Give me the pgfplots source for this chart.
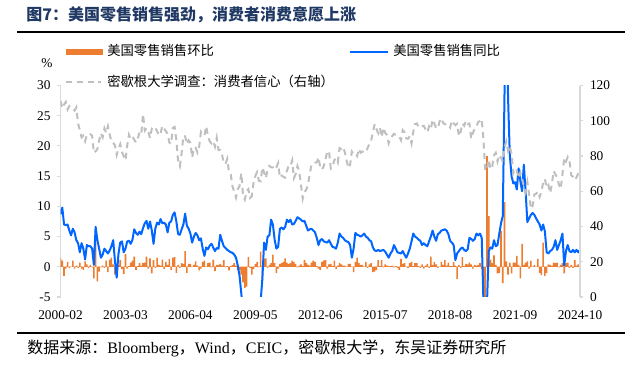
\documentclass[border=0pt]{standalone}
\usepackage{fontspec}
\setmainfont{Liberation Serif}
\newfontfamily\cjk{Noto Sans CJK SC}
\usepackage{pgfplots}
\usepackage{pgfplotstable}
\pgfplotsset{compat=1.18}
\definecolor{bOrange}{RGB}{237,125,49}
\definecolor{bBlue}{RGB}{0,102,255}
\definecolor{bGray}{RGB}{191,191,191}
\definecolor{axGray}{RGB}{217,217,217}
\definecolor{ttl}{RGB}{31,56,100}

% US retail sales MoM (%), 2000-02 ... 2024-10
\pgfplotstableread[row sep=\\]{v\\
1.4\\1.0\\-1.5\\-0.3\\0.8\\-0.2\\0.0\\1.0\\-0.3\\0.2\\-0.2\\
0.7\\-0.3\\-0.5\\0.9\\0.4\\-0.2\\0.3\\-0.1\\-1.9\\6.5\\-2.4\\-0.8\\
-0.1\\0.2\\-0.2\\1.0\\-0.9\\1.2\\1.5\\0.4\\-1.3\\0.4\\0.3\\1.1\\
-0.4\\-1.2\\2.1\\-0.3\\0.1\\0.7\\1.0\\1.7\\-0.5\\0.1\\0.6\\0.2\\
0.6\\0.7\\1.7\\-0.3\\1.4\\-1.1\\1.1\\-0.2\\1.5\\0.3\\0.2\\1.2\\
-0.4\\0.8\\0.3\\1.3\\-0.5\\1.5\\1.6\\-1.0\\0.3\\-0.2\\0.6\\0.5\\
2.6\\-1.0\\0.5\\0.5\\0.0\\0.3\\0.9\\0.2\\-0.6\\-0.3\\0.8\\1.0\\
0.0\\0.6\\0.7\\-0.1\\1.2\\-0.7\\0.3\\0.3\\0.5\\0.2\\1.1\\-0.1\\
0.1\\-0.6\\0.1\\0.3\\0.6\\0.2\\-0.6\\-0.5\\-1.3\\-2.6\\-3.5\\-3.3\\
1.6\\-0.2\\-1.3\\-0.4\\0.5\\0.8\\-0.1\\2.5\\-2.3\\1.3\\1.4\\-0.2\\
0.3\\0.6\\2.0\\0.6\\-1.0\\-0.3\\0.5\\0.6\\0.8\\1.4\\0.7\\0.5\\
0.6\\1.0\\0.8\\0.5\\-0.1\\0.2\\0.4\\0.1\\1.1\\0.6\\0.3\\0.2\\
0.7\\1.0\\0.8\\0.1\\-0.3\\-0.5\\0.8\\1.0\\1.1\\-0.3\\0.4\\0.5\\
0.1\\1.0\\-0.4\\0.2\\0.6\\0.4\\0.2\\0.2\\0.0\\0.5\\0.5\\0.0\\
-0.9\\0.8\\1.5\\0.6\\0.3\\0.3\\0.0\\0.8\\-0.2\\0.4\\0.6\\-0.9\\
-0.8\\-0.5\\1.1\\0.1\\1.1\\-0.1\\0.4\\0.2\\0.1\\0.1\\0.2\\-0.1\\
0.1\\-0.2\\-0.5\\1.3\\0.5\\0.6\\0.0\\-0.2\\0.6\\0.8\\0.1\\0.6\\
0.6\\0.1\\-0.2\\0.4\\-0.3\\0.2\\0.5\\-0.2\\1.7\\0.3\\0.8\\0.4\\
-0.2\\0.0\\0.8\\0.3\\1.1\\0.2\\0.7\\0.1\\0.1\\0.8\\0.2\\-2.0\\
0.3\\-0.2\\1.6\\0.1\\0.5\\0.4\\0.7\\0.4\\-0.3\\0.3\\0.2\\0.3\\
0.6\\-0.4\\-8.2\\-14.7\\18.3\\8.4\\1.2\\0.6\\1.9\\0.3\\-1.1\\-1.0\\
5.9\\-2.7\\10.7\\0.9\\-1.3\\0.7\\-1.1\\0.7\\0.7\\1.8\\0.3\\-1.9\\
3.8\\0.3\\0.7\\0.9\\-0.3\\1.0\\0.0\\0.3\\0.0\\1.3\\-1.0\\-1.4\\
4.0\\-1.5\\-1.0\\0.4\\0.3\\0.2\\0.7\\0.6\\0.7\\-0.1\\0.3\\0.6\\
-1.1\\0.6\\0.7\\-0.2\\0.3\\-0.2\\1.1\\0.2\\0.4\\0.4\\
}\momtab

% US retail sales YoY (%)
\pgfplotstableread[row sep=\\]{v\\
8.7\\9.8\\7.0\\6.9\\7.0\\6.0\\5.2\\6.3\\5.7\\4.4\\3.9\\
2.4\\3.9\\3.0\\1.2\\3.6\\3.4\\3.4\\3.0\\0.3\\6.6\\4.4\\3.0\\
1.5\\2.0\\3.0\\2.6\\2.2\\2.7\\3.4\\4.4\\1.0\\-1.8\\2.1\\4.0\\
4.2\\2.4\\3.0\\4.2\\4.3\\3.8\\4.5\\6.2\\5.6\\5.3\\5.8\\5.4\\
6.4\\7.2\\7.6\\6.3\\7.5\\6.0\\3.8\\6.3\\7.3\\7.0\\7.9\\7.2\\
7.3\\7.0\\5.7\\7.3\\7.5\\8.6\\9.0\\7.5\\5.4\\5.3\\6.2\\7.0\\
8.8\\6.8\\6.3\\5.5\\4.0\\5.0\\5.6\\5.2\\4.4\\4.7\\3.0\\1.8\\
3.2\\2.9\\3.5\\3.8\\3.2\\2.6\\3.1\\3.0\\5.3\\4.3\\3.4\\3.1\\
2.8\\2.6\\2.4\\2.3\\2.0\\1.5\\0.2\\-1.5\\-4.4\\-7.5\\-9.8\\-10.0\\
-9.5\\-8.9\\-10.5\\-10.5\\-9.9\\-9.1\\-8.5\\-5.8\\-2.0\\4.0\\2.8\\5.0\\
5.2\\7.8\\7.0\\4.5\\3.0\\3.3\\6.3\\6.5\\6.2\\6.6\\7.8\\7.4\\
7.8\\7.0\\7.1\\7.6\\8.2\\8.0\\7.8\\7.5\\7.6\\6.8\\6.0\\6.2\\
6.3\\6.0\\5.7\\4.8\\3.6\\4.4\\4.6\\4.2\\4.1\\4.0\\4.4\\3.8\\
3.3\\3.2\\3.0\\4.0\\5.5\\5.0\\4.8\\4.4\\4.2\\4.1\\3.6\\1.5\\
3.0\\5.6\\5.3\\5.2\\5.0\\5.2\\5.5\\5.0\\4.8\\4.4\\4.2\\3.2\\
2.7\\2.6\\2.8\\2.6\\2.7\\2.8\\2.5\\2.0\\1.5\\2.2\\2.6\\3.6\\
3.0\\2.4\\2.3\\2.2\\2.6\\2.0\\1.5\\2.2\\3.0\\4.2\\5.5\\5.0\\
4.8\\4.5\\4.3\\3.6\\3.9\\3.6\\3.4\\4.2\\5.0\\6.0\\5.0\\4.3\\
5.4\\5.6\\6.0\\6.1\\6.2\\6.0\\5.4\\4.3\\4.0\\3.6\\1.1\\2.2\\
2.6\\3.0\\3.2\\2.8\\2.6\\2.9\\4.8\\4.6\\4.3\\4.6\\5.5\\5.2\\
5.5\\4.8\\-6.0\\-19.9\\-6.0\\2.6\\3.2\\3.0\\4.4\\3.4\\3.6\\5.5\\
7.2\\8.4\\29.0\\51.5\\28.0\\18.5\\15.0\\13.8\\14.0\\12.8\\16.3\\14.2\\
12.5\\16.9\\12.5\\7.4\\8.0\\8.6\\8.9\\8.6\\8.0\\7.5\\7.0\\6.0\\
7.0\\5.8\\2.4\\2.2\\2.6\\2.8\\3.3\\4.4\\2.8\\3.6\\4.4\\5.5\\
0.2\\2.6\\3.6\\2.6\\2.4\\2.8\\2.4\\2.8\\2.4\\2.8\\
}\yoytab

% University of Michigan consumer sentiment
\pgfplotstableread[row sep=\\]{v\\
111.3\\107.1\\109.2\\110.7\\106.4\\108.3\\107.3\\106.8\\105.8\\107.6\\98.4\\
94.7\\90.6\\91.5\\88.4\\92.0\\92.6\\92.4\\91.5\\81.8\\82.7\\83.9\\88.8\\
93.0\\90.7\\95.7\\93.0\\96.9\\92.4\\88.1\\87.6\\86.1\\80.6\\84.2\\86.7\\
82.4\\79.9\\77.6\\86.0\\92.1\\89.7\\90.9\\89.3\\87.7\\89.6\\93.7\\92.6\\
103.8\\94.4\\95.8\\94.2\\90.2\\95.6\\96.7\\95.9\\94.2\\91.7\\92.8\\97.1\\
95.5\\94.1\\92.6\\87.7\\86.9\\96.0\\96.5\\89.1\\76.9\\74.2\\81.6\\91.5\\
91.2\\86.7\\88.9\\87.4\\79.1\\84.9\\84.7\\82.0\\85.4\\93.6\\92.1\\91.7\\
96.9\\91.3\\88.4\\87.1\\88.3\\85.3\\90.4\\83.4\\83.4\\80.9\\76.1\\75.5\\
78.4\\70.8\\69.5\\62.6\\59.8\\56.4\\61.2\\63.0\\70.3\\57.6\\55.3\\60.1\\
61.2\\56.3\\57.3\\65.1\\68.7\\70.8\\66.0\\65.7\\73.5\\70.6\\67.4\\72.5\\
74.4\\73.6\\73.6\\72.2\\73.6\\76.0\\67.8\\68.9\\68.2\\67.7\\71.6\\74.5\\
74.2\\77.5\\67.5\\69.8\\74.3\\71.5\\63.7\\55.8\\59.5\\60.8\\63.7\\69.9\\
75.0\\75.3\\76.2\\76.4\\79.3\\73.2\\72.3\\74.3\\78.3\\82.6\\82.7\\72.9\\
73.8\\77.6\\78.6\\76.4\\84.5\\84.1\\85.1\\82.1\\77.5\\73.2\\75.1\\82.5\\
81.2\\81.6\\80.0\\84.1\\81.9\\82.5\\81.8\\82.5\\84.6\\86.9\\88.8\\93.6\\
98.1\\95.4\\93.0\\95.9\\90.7\\96.1\\93.1\\91.9\\87.2\\90.0\\91.3\\92.6\\
92.0\\91.7\\91.0\\89.0\\94.7\\93.5\\90.0\\89.8\\91.2\\87.2\\93.8\\98.2\\
98.5\\96.3\\96.9\\97.0\\97.1\\95.0\\93.4\\96.8\\95.1\\100.7\\98.5\\95.9\\
95.7\\99.7\\101.4\\98.8\\98.0\\98.2\\97.9\\96.2\\100.1\\98.6\\97.5\\98.3\\
91.2\\93.8\\98.4\\97.2\\100.0\\98.2\\98.4\\89.8\\93.2\\95.5\\96.8\\99.3\\
99.8\\101.0\\89.1\\71.8\\72.3\\78.1\\72.5\\74.1\\80.4\\81.8\\76.9\\80.7\\
79.0\\76.8\\84.9\\88.3\\82.9\\85.5\\81.2\\70.3\\72.8\\71.7\\67.4\\70.6\\
67.2\\62.8\\59.4\\65.2\\58.4\\50.0\\51.5\\58.2\\58.6\\59.9\\56.8\\59.7\\
64.9\\67.0\\62.0\\63.5\\59.0\\64.2\\71.5\\69.5\\67.9\\63.8\\61.3\\69.7\\
79.0\\76.9\\79.4\\77.2\\69.1\\68.2\\66.4\\67.9\\70.1\\70.5\\
}\senttab

\begin{document}
\begin{tikzpicture}[x=1pt,y=1pt]
\path[use as bounding box] (0,0) rectangle (474,274.5);
\node[anchor=west, inner sep=0pt, text=ttl, font=\cjk\bfseries\fontsize{12}{14}\selectfont] at (19.5,263.25) {图7：美国零售销售强劲，消费者消费意愿上涨};
\draw[line width=1.2pt] (12.75,250.5) -- (468.75,250.5);
\draw[line width=1pt] (12.75,24.75) -- (468.75,24.75);
\node[anchor=west, inner sep=0pt, font=\fontsize{12}{14}\selectfont] at (20.25,13.5) {{\cjk 数据来源：}Bloomberg{\cjk ，}Wind{\cjk ，}CEIC{\cjk ，密歇根大学，东吴证券研究所}};
\node[inner sep=0pt, font=\fontsize{10}{12}\selectfont] at (35.25,227.25) {\%};

\begin{axis}[
  at={(45.4pt,51.75pt)}, anchor=south west,
  width=389.6pt, height=158.6pt, scale only axis,
  xmin=0, xmax=296, ymin=-5, ymax=30,
  axis y line*=left, axis x line*=bottom,
  x axis line style={draw=none},
  y axis line style={draw=axGray, line width=0.8pt},
  xtick={0,37,74,111,148,185,222,259,296},
  xticklabels={2000-02,2003-03,2006-04,2009-05,2012-06,2015-07,2018-08,2021-09,2024-10},
  xtick style={draw=none},
  ytick={-5,0,5,10,15,20,25,30},
  ytick style={draw=axGray, line width=0.8pt},
  tick align=outside, major tick length=2.5pt,
  tick label style={font=\fontsize{10}{12}\selectfont},
  xticklabel style={yshift=-4pt},
  yticklabel style={xshift=-1.5pt},
  /pgf/number format/assume math mode=true,
  extra y ticks={0}, extra y tick labels={},
  extra y tick style={grid=major, major grid style={draw=bOrange!30, line width=0.6pt}, major tick length=0pt},
  legend columns=2,
  legend cell align=left,
  legend style={at={(0.0087,1.19)}, anchor=north west, draw=none, fill=none,
    inner sep=0pt, row sep=14pt,
    font=\cjk\fontsize{10}{12}\selectfont,
    nodes={inner sep=0pt, text height=7.5pt, text depth=1.5pt},
    /tikz/every odd column/.style={column sep=3pt},
    /tikz/every even column/.style={column sep=11pt}},
]
\addplot[ybar, bar width=1.2pt, fill=bOrange, draw=none,
  legend image code/.code={\fill[bOrange] (0pt,-2.2pt) rectangle (27.75pt,2.2pt);}]
  table[x expr=\coordindex, y=v]{\momtab};
\addlegendentry{美国零售销售环比}
\addplot[bBlue, line width=1.5pt, line join=round, no markers,
  legend image code/.code={\draw[bBlue, line width=1.5pt] (0pt,0pt) -- (29pt,0pt);}]
  table[x expr=\coordindex, y=v]{\yoytab};
\addlegendentry{美国零售销售同比}
\addlegendimage{legend image code/.code={\draw[bGray, line width=1.5pt, dash pattern=on 4.5pt off 3.5pt] (0pt,0pt) -- (26pt,0pt);}}
\addlegendentry{密歇根大学调查：消费者信心（右轴）}
\end{axis}

\begin{axis}[
  at={(45.4pt,51.75pt)}, anchor=south west,
  width=389.6pt, height=158.6pt, scale only axis,
  xmin=0, xmax=296, ymin=0, ymax=120,
  axis y line*=right, axis x line=none,
  y axis line style={draw=axGray, line width=0.8pt},
  ytick={0,20,40,60,80,100,120},
  ytick style={draw=axGray, line width=0.8pt},
  tick align=outside, major tick length=2.5pt,
  tick label style={font=\fontsize{10}{12}\selectfont},
  yticklabel style={xshift=1.5pt},
  /pgf/number format/assume math mode=true,
]
\addplot[bGray, line width=1.5pt, dash pattern=on 4.5pt off 3.5pt, no markers]
  table[x expr=\coordindex, y=v]{\senttab};
\end{axis}
\end{tikzpicture}
\end{document}
